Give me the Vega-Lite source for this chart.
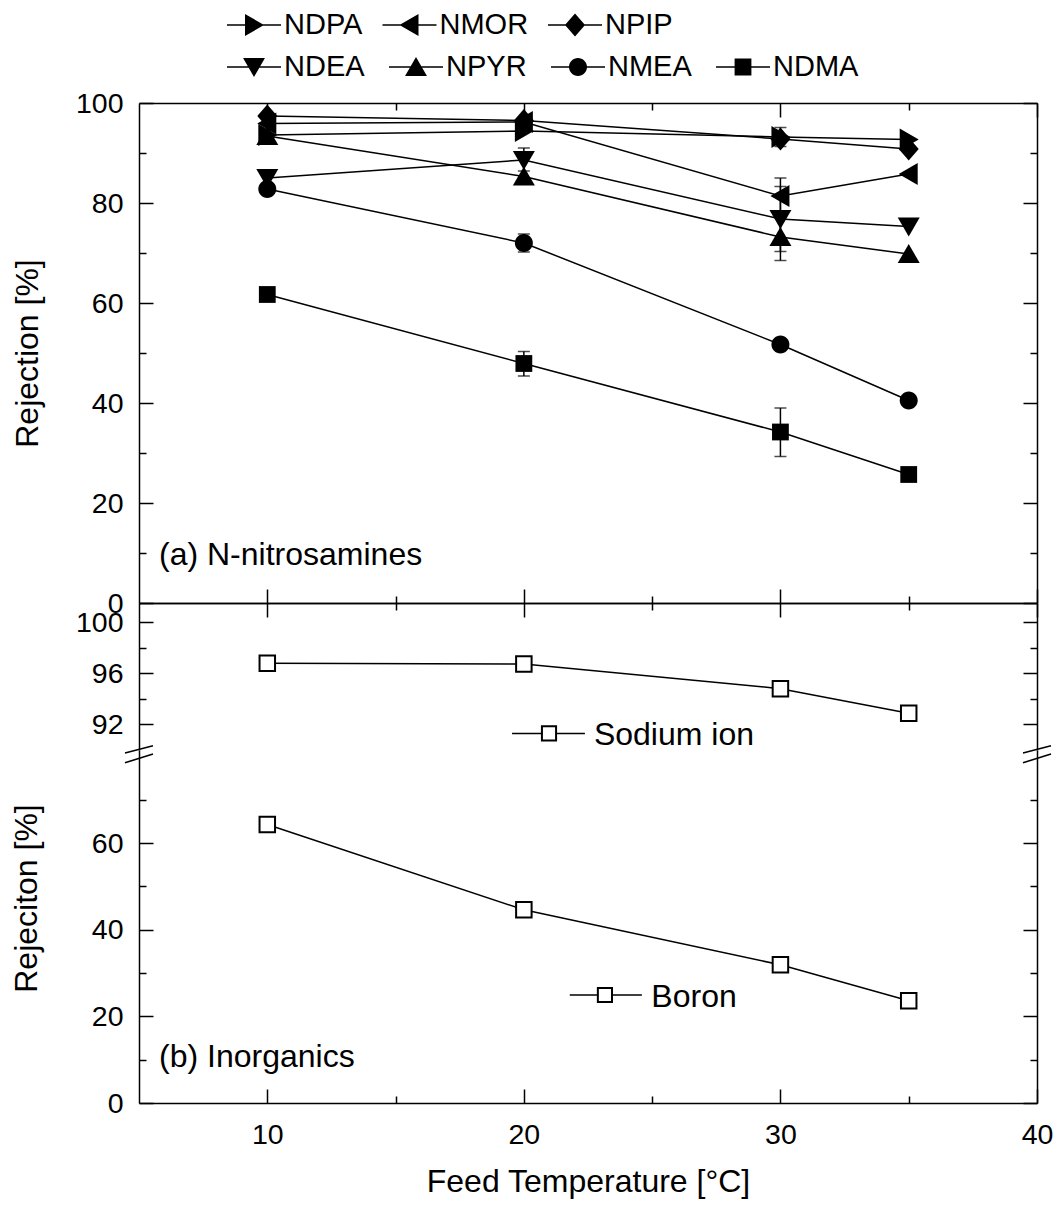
{
  "$schema": "https://vega.github.io/schema/vega-lite/v6.json",
  "background": "white",
  "padding": {"left": 10, "top": 9, "right": 5, "bottom": 5},
  "bounds": "flush",
  "spacing": 0,
  "config": {
    "view": {"stroke": null},
    "font": "Liberation Sans",
    "axis": {"grid": false, "domainColor": "black", "domainWidth": 1.5, "tickColor": "black", "tickWidth": 1.5, "labelFont": "Liberation Sans", "labelFontSize": 28.5, "labelColor": "black", "labelFlush": false, "labelOverlap": false, "titleFont": "Liberation Sans", "titleFontSize": 32, "titleFontWeight": "normal", "titleColor": "black"},
    "legend": {"labelFont": "Liberation Sans", "labelFontSize": 29, "labelColor": "black"}
  },
  "datasets": {
    "nitro": [
      {"series": "NDPA", "T": 10, "R": 93.6}, {"series": "NDPA", "T": 20, "R": 94.4}, {"series": "NDPA", "T": 30, "R": 93.2}, {"series": "NDPA", "T": 35, "R": 92.7},
      {"series": "NMOR", "T": 10, "R": 95.9}, {"series": "NMOR", "T": 20, "R": 96.2}, {"series": "NMOR", "T": 30, "R": 81.4}, {"series": "NMOR", "T": 35, "R": 85.8},
      {"series": "NPIP", "T": 10, "R": 97.4}, {"series": "NPIP", "T": 20, "R": 96.5}, {"series": "NPIP", "T": 30, "R": 92.8}, {"series": "NPIP", "T": 35, "R": 90.8},
      {"series": "NDEA", "T": 10, "R": 85.0}, {"series": "NDEA", "T": 20, "R": 88.6}, {"series": "NDEA", "T": 30, "R": 76.8}, {"series": "NDEA", "T": 35, "R": 75.3},
      {"series": "NPYR", "T": 10, "R": 93.4}, {"series": "NPYR", "T": 20, "R": 85.3}, {"series": "NPYR", "T": 30, "R": 73.2}, {"series": "NPYR", "T": 35, "R": 69.8},
      {"series": "NMEA", "T": 10, "R": 82.8}, {"series": "NMEA", "T": 20, "R": 72.0}, {"series": "NMEA", "T": 30, "R": 51.7}, {"series": "NMEA", "T": 35, "R": 40.5},
      {"series": "NDMA", "T": 10, "R": 61.7}, {"series": "NDMA", "T": 20, "R": 47.9}, {"series": "NDMA", "T": 30, "R": 34.2}, {"series": "NDMA", "T": 35, "R": 25.7}
    ],
    "errs": [
      {"series": "NDEA", "T": 20, "lo": 86.4, "hi": 91.0},
      {"series": "NMEA", "T": 20, "lo": 70.2, "hi": 73.8},
      {"series": "NDMA", "T": 20, "lo": 45.4, "hi": 50.3},
      {"series": "NDPA", "T": 30, "lo": 91.3, "hi": 95.1},
      {"series": "NMOR", "T": 30, "lo": 77.8, "hi": 85.0},
      {"series": "NDEA", "T": 30, "lo": 70.3, "hi": 83.3},
      {"series": "NPYR", "T": 30, "lo": 68.5, "hi": 77.9},
      {"series": "NDMA", "T": 30, "lo": 29.3, "hi": 39.0}
    ],
    "inorg": [
      {"ion": "Sodium ion", "T": 10, "R": 96.78}, {"ion": "Sodium ion", "T": 20, "R": 96.73}, {"ion": "Sodium ion", "T": 30, "R": 94.8}, {"ion": "Sodium ion", "T": 35, "R": 92.87},
      {"ion": "Boron", "T": 10, "R": 64.3}, {"ion": "Boron", "T": 20, "R": 44.6}, {"ion": "Boron", "T": 30, "R": 31.9}, {"ion": "Boron", "T": 35, "R": 23.6}
    ]
  },
  "vconcat": [
    {
      "width": 898, "height": 500,
      "layer": [
        {
          "data": {"name": "nitro"},
          "transform": [{"filter": {"field": "series", "oneOf": ["NDPA", "NMOR", "NPIP"]}}],
          "encoding": {
            "x": {"field": "T", "type": "quantitative", "scale": {"domain": [5, 40], "nice": false, "zero": false}, "axis": {"orient": "bottom", "values": [10, 20, 30, 40], "tickSize": -14, "labels": false, "title": null}},
            "y": {"field": "R", "type": "quantitative", "scale": {"domain": [0, 100], "nice": false, "zero": false}, "axis": {"orient": "left", "values": [0, 20, 40, 60, 80, 100], "tickSize": -14, "labelPadding": 30, "title": "Rejection [%]", "titlePadding": 31}}
          },
          "layer": [
            {"mark": {"type": "line", "color": "black", "strokeWidth": 1.5}, "encoding": {"detail": {"field": "series"}}},
            {"mark": {"type": "point", "filled": true, "color": "black", "opacity": 1, "size": 1600, "strokeWidth": 0},
             "encoding": {"shape": {"field": "series", "type": "nominal",
               "scale": {"domain": ["NDPA", "NMOR", "NPIP"], "range": ["M-0.45,-0.55L0.5,0L-0.45,0.55Z", "M0.45,-0.55L-0.5,0L0.45,0.55Z", "M0,-0.58L0.5,0L0,0.58L-0.5,0Z"]},
               "legend": null}}},
            {"mark": {"type": "point", "filled": true, "color": "black", "opacity": 1, "size": 0, "strokeWidth": 0},
             "encoding": {"shape": {"field": "series", "type": "nominal",
               "scale": {"domain": ["NDPA", "NMOR", "NPIP"], "range": ["M-1.8,-0.05H1.8V0.05H-1.8ZM-0.6,-0.73L0.67,0L-0.6,0.73Z", "M-1.8,-0.05H1.8V0.05H-1.8ZM0.6,0.73L-0.67,0L0.6,-0.73Z", "M-1.8,-0.05H1.8V0.05H-1.8ZM0,-0.77L0.67,0L0,0.77L-0.67,0Z"]},
               "legend": {"orient": "none", "legendX": 99, "legendY": -94, "direction": "horizontal", "title": null, "padding": 0, "symbolSize": 900, "symbolOpacity": 1, "symbolFillColor": "black", "labelOffset": 14, "columnPadding": 16.5}}}}
          ],
          "resolve": {"scale": {"shape": "independent"}}
        },
        {
          "data": {"name": "nitro"},
          "transform": [{"filter": {"field": "series", "oneOf": ["NDEA", "NPYR", "NMEA", "NDMA"]}}],
          "encoding": {
            "x": {"field": "T", "type": "quantitative", "scale": {"domain": [5, 40], "nice": false, "zero": false}, "axis": {"orient": "bottom", "values": [15, 25, 35], "tickSize": -7, "labels": false, "domain": false, "title": null}},
            "y": {"field": "R", "type": "quantitative", "scale": {"domain": [0, 100], "nice": false, "zero": false}, "axis": {"orient": "left", "values": [10, 30, 50, 70, 90], "tickSize": -7, "labels": false, "domain": false, "title": null}}
          },
          "layer": [
            {"mark": {"type": "line", "color": "black", "strokeWidth": 1.5}, "encoding": {"detail": {"field": "series"}}},
            {"mark": {"type": "point", "filled": true, "color": "black", "opacity": 1, "size": 1600, "strokeWidth": 0},
             "encoding": {"shape": {"field": "series", "type": "nominal",
               "scale": {"domain": ["NDEA", "NPYR", "NMEA", "NDMA"], "range": ["M-0.55,-0.45L0.55,-0.45L0,0.5Z", "M-0.55,0.45L0.55,0.45L0,-0.5Z", "M-0.45,0A0.45,0.45,0,1,0,0.45,0A0.45,0.45,0,1,0,-0.45,0Z", "M-0.42,-0.42H0.42V0.42H-0.42Z"]},
               "legend": null}}},
            {"mark": {"type": "point", "filled": true, "color": "black", "opacity": 1, "size": 0, "strokeWidth": 0},
             "encoding": {"shape": {"field": "series", "type": "nominal",
               "scale": {"domain": ["NDEA", "NPYR", "NMEA", "NDMA"], "range": ["M-1.8,-0.05H1.8V0.05H-1.8ZM-0.73,-0.6L0.73,-0.6L0,0.67Z", "M-1.8,-0.05H1.8V0.05H-1.8ZM0.73,0.6L-0.73,0.6L0,-0.67Z", "M-1.8,-0.05H1.8V0.05H-1.8ZM-0.6,0A0.6,0.6,0,1,1,0.6,0A0.6,0.6,0,1,1,-0.6,0Z", "M-1.8,-0.05H1.8V0.05H-1.8ZM-0.56,-0.56H0.56V0.56H-0.56Z"]},
               "legend": {"orient": "none", "legendX": 99, "legendY": -52, "direction": "horizontal", "title": null, "padding": 0, "symbolSize": 900, "symbolOpacity": 1, "symbolFillColor": "black", "labelOffset": 14, "columnPadding": 21}}}}
          ],
          "resolve": {"scale": {"shape": "independent"}}
        },
        {
          "data": {"name": "errs"},
          "mark": {"type": "errorbar", "color": "black", "thickness": 1.5, "ticks": {"size": 12}},
          "encoding": {
            "x": {"field": "T", "type": "quantitative", "scale": {"domain": [5, 40], "nice": false, "zero": false}, "axis": {"orient": "top", "values": [10, 20, 30, 40], "tickSize": -14, "labels": false, "title": null}},
            "y": {"field": "lo", "type": "quantitative", "scale": {"domain": [0, 100], "nice": false, "zero": false}, "axis": {"orient": "right", "values": [0, 20, 40, 60, 80, 100], "tickSize": -14, "labels": false, "title": null}},
            "y2": {"field": "hi"}
          }
        },
        {
          "data": {"values": [{}]},
          "mark": {"type": "text", "text": "(a) N-nitrosamines", "align": "left", "baseline": "alphabetic", "fontSize": 32, "font": "Liberation Sans", "color": "black"},
          "encoding": {
            "x": {"datum": 5.78, "type": "quantitative", "scale": {"domain": [5, 40], "nice": false, "zero": false}, "axis": {"orient": "top", "values": [15, 25, 35], "tickSize": -7, "labels": false, "domain": false, "title": null}},
            "y": {"datum": 7.6, "type": "quantitative", "scale": {"domain": [0, 100], "nice": false, "zero": false}, "axis": {"orient": "right", "values": [10, 30, 50, 70, 90], "tickSize": -7, "labels": false, "domain": false, "title": null}}
          }
        }
      ],
      "resolve": {"scale": {"shape": "independent"}, "axis": {"x": "independent", "y": "independent"}}
    },
    {
      "width": 898, "height": 147,
      "layer": [
        {
          "data": {"name": "inorg"},
          "transform": [{"filter": {"field": "ion", "equal": "Sodium ion"}}],
          "encoding": {
            "x": {"field": "T", "type": "quantitative", "scale": {"domain": [5, 40], "nice": false, "zero": false}, "axis": {"orient": "top", "values": [10, 20, 30, 40], "tickSize": -14, "labels": false, "title": null}},
            "y": {"field": "R", "type": "quantitative", "scale": {"domain": [90, 101.5], "nice": false, "zero": false}, "axis": {"orient": "left", "values": [92, 96, 100], "tickSize": -14, "labelPadding": 30, "title": null}}
          },
          "layer": [
            {"mark": {"type": "line", "color": "black", "strokeWidth": 1.5}},
            {"mark": {"type": "point", "shape": "square", "size": 240, "filled": true, "fill": "white", "stroke": "black", "strokeWidth": 2, "opacity": 1}}
          ]
        },
        {
          "data": {"values": [{}]},
          "mark": {"type": "rule", "color": "black", "strokeWidth": 1.5},
          "encoding": {
            "x": {"datum": 19.54, "type": "quantitative", "scale": {"domain": [5, 40], "nice": false, "zero": false}, "axis": {"orient": "top", "values": [15, 25, 35], "tickSize": -7, "labels": false, "domain": false, "title": null}},
            "x2": {"datum": 22.38},
            "y": {"datum": 91.3, "type": "quantitative", "scale": {"domain": [90, 101.5], "nice": false, "zero": false}, "axis": {"orient": "left", "values": [94, 98], "tickSize": -7, "labels": false, "domain": false, "title": null}}
          }
        },
        {
          "data": {"values": [{}]},
          "mark": {"type": "point", "shape": "square", "size": 200, "filled": true, "fill": "white", "stroke": "black", "strokeWidth": 2, "opacity": 1},
          "encoding": {
            "x": {"datum": 20.98, "type": "quantitative", "scale": {"domain": [5, 40], "nice": false, "zero": false}, "axis": null},
            "y": {"datum": 91.3, "type": "quantitative", "scale": {"domain": [90, 101.5], "nice": false, "zero": false}, "axis": {"orient": "right", "values": [92, 96, 100], "tickSize": -14, "labels": false, "title": null}}
          }
        },
        {
          "data": {"values": [{}]},
          "mark": {"type": "text", "text": "Sodium ion", "align": "left", "baseline": "alphabetic", "fontSize": 32, "font": "Liberation Sans", "color": "black"},
          "encoding": {
            "x": {"datum": 22.73, "type": "quantitative", "scale": {"domain": [5, 40], "nice": false, "zero": false}, "axis": null},
            "y": {"datum": 90.39, "type": "quantitative", "scale": {"domain": [90, 101.5], "nice": false, "zero": false}, "axis": {"orient": "right", "values": [94, 98], "tickSize": -7, "labels": false, "domain": false, "title": null}}
          }
        }
      ],
      "resolve": {"axis": {"x": "independent", "y": "independent"}}
    },
    {
      "width": 898, "height": 353,
      "layer": [
        {
          "data": {"name": "inorg"},
          "transform": [{"filter": {"field": "ion", "equal": "Boron"}}],
          "encoding": {
            "x": {"field": "T", "type": "quantitative", "scale": {"domain": [5, 40], "nice": false, "zero": false}, "axis": {"orient": "bottom", "values": [10, 20, 30, 40], "tickSize": -14, "labelPadding": 31, "title": "Feed Temperature [°C]", "titlePadding": 18}},
            "y": {"field": "R", "type": "quantitative", "scale": {"domain": [0, 81.5], "nice": false, "zero": false}, "axis": {"orient": "left", "values": [0, 20, 40, 60], "tickSize": -14, "labelPadding": 30, "title": "Rejeciton [%]", "titlePadding": 48, "titleY": 148}}
          },
          "layer": [
            {"mark": {"type": "line", "color": "black", "strokeWidth": 1.5}},
            {"mark": {"type": "point", "shape": "square", "size": 240, "filled": true, "fill": "white", "stroke": "black", "strokeWidth": 2, "opacity": 1}}
          ]
        },
        {
          "data": {"values": [{}]},
          "mark": {"type": "rule", "color": "black", "strokeWidth": 1.5},
          "encoding": {
            "x": {"datum": 21.79, "type": "quantitative", "scale": {"domain": [5, 40], "nice": false, "zero": false}, "axis": {"orient": "bottom", "values": [15, 25, 35], "tickSize": -7, "labels": false, "domain": false, "title": null}},
            "x2": {"datum": 24.6},
            "y": {"datum": 24.93, "type": "quantitative", "scale": {"domain": [0, 81.5], "nice": false, "zero": false}, "axis": {"orient": "left", "values": [10, 30, 50, 70], "tickSize": -7, "labels": false, "domain": false, "title": null}}
          }
        },
        {
          "data": {"values": [{}]},
          "mark": {"type": "point", "shape": "square", "size": 200, "filled": true, "fill": "white", "stroke": "black", "strokeWidth": 2, "opacity": 1},
          "encoding": {
            "x": {"datum": 23.16, "type": "quantitative", "scale": {"domain": [5, 40], "nice": false, "zero": false}, "axis": null},
            "y": {"datum": 24.93, "type": "quantitative", "scale": {"domain": [0, 81.5], "nice": false, "zero": false}, "axis": {"orient": "right", "values": [0, 20, 40, 60], "tickSize": -14, "labels": false, "title": null}}
          }
        },
        {
          "data": {"values": [{}]},
          "mark": {"type": "text", "text": "Boron", "align": "left", "baseline": "alphabetic", "fontSize": 32, "font": "Liberation Sans", "color": "black"},
          "encoding": {
            "x": {"datum": 24.97, "type": "quantitative", "scale": {"domain": [5, 40], "nice": false, "zero": false}, "axis": null},
            "y": {"datum": 22.23, "type": "quantitative", "scale": {"domain": [0, 81.5], "nice": false, "zero": false}, "axis": {"orient": "right", "values": [10, 30, 50, 70], "tickSize": -7, "labels": false, "domain": false, "title": null}}
          }
        },
        {
          "data": {"values": [{}]},
          "mark": {"type": "text", "text": "(b) Inorganics", "align": "left", "baseline": "alphabetic", "fontSize": 32, "font": "Liberation Sans", "color": "black"},
          "encoding": {
            "x": {"datum": 5.78, "type": "quantitative", "scale": {"domain": [5, 40], "nice": false, "zero": false}, "axis": null},
            "y": {"datum": 8.2, "type": "quantitative", "scale": {"domain": [0, 81.5], "nice": false, "zero": false}, "axis": null}
          }
        },
        {
          "data": {"values": [{}]},
          "mark": {"type": "point", "shape": "M-1,-0.07L1,-0.59M-1,0.62L1,0", "size": 784, "filled": false, "stroke": "black", "strokeWidth": 1.5, "opacity": 1},
          "encoding": {
            "x": {"datum": 5, "type": "quantitative", "scale": {"domain": [5, 40], "nice": false, "zero": false}, "axis": null},
            "y": {"datum": 80.58, "type": "quantitative", "scale": {"domain": [0, 81.5], "nice": false, "zero": false}, "axis": null}
          }
        },
        {
          "data": {"values": [{}]},
          "mark": {"type": "point", "shape": "M-1,-0.07L1,-0.59M-1,0.62L1,0", "size": 784, "filled": false, "stroke": "black", "strokeWidth": 1.5, "opacity": 1},
          "encoding": {
            "x": {"datum": 40, "type": "quantitative", "scale": {"domain": [5, 40], "nice": false, "zero": false}, "axis": null},
            "y": {"datum": 80.58, "type": "quantitative", "scale": {"domain": [0, 81.5], "nice": false, "zero": false}, "axis": null}
          }
        }
      ],
      "resolve": {"axis": {"x": "independent", "y": "independent"}}
    }
  ]
}
